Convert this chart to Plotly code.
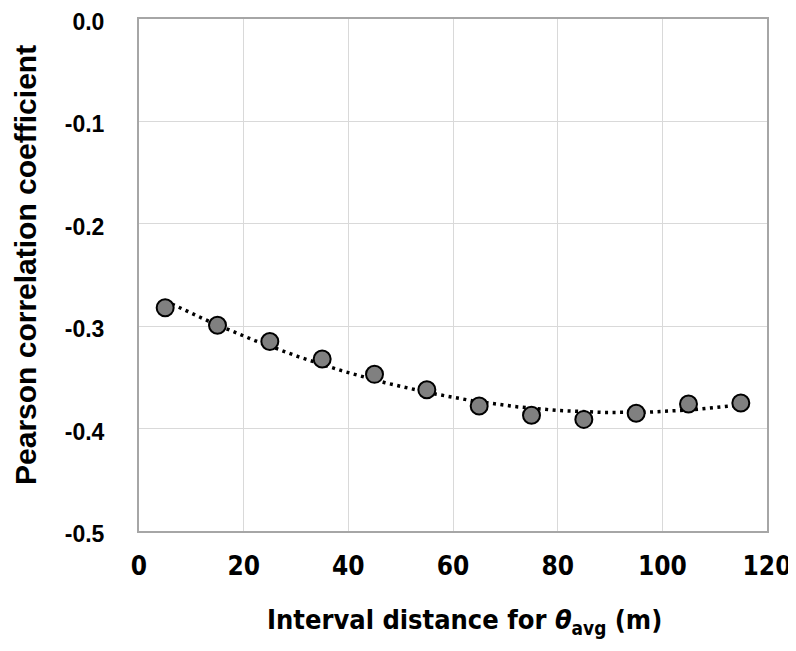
import numpy as np
import plotly.graph_objects as go

distance = [5, 15, 25, 35, 45, 55, 65, 75, 85, 95, 105, 115]
pearson_r = [-0.282, -0.299, -0.315, -0.332, -0.347, -0.362, -0.378, -0.387, -0.391, -0.385, -0.376, -0.375]
x_ticks = [0, 20, 40, 60, 80, 100, 120]
y_ticks = [0.0, -0.1, -0.2, -0.3, -0.4, -0.5]
x_title = "<b>Interval distance for <i>θ</i><sub>avg</sub> (m)</b>"
y_title = "<b>Pearson correlation coefficient</b>"

coef = np.polyfit(distance, pearson_r, 2)
x_fit = np.linspace(min(distance), max(distance), 200)
y_fit = np.polyval(coef, x_fit)

fig = go.Figure()
fig.add_trace(go.Scatter(x=x_fit, y=y_fit, mode="lines",
                         line=dict(color="black", width=3.5, dash="3px,4.5px"),
                         hoverinfo="skip", showlegend=False))
fig.add_trace(go.Scatter(x=distance, y=pearson_r, mode="markers",
                         marker=dict(size=17, color="#808080",
                                     line=dict(color="black", width=2)),
                         showlegend=False))

cond = "DejaVu Sans Condensed, DejaVu Sans, sans-serif"
arial = "Liberation Sans, Arial, sans-serif"
# page body has an 8px default margin; figure is sized so the plot lands where the reference has it
W, H = 788, 643
L, R, T, B = 131, 29, 11, 120
pw, ph = W - L - R, H - T - B
fig.update_layout(
    width=W, height=H,
    margin=dict(l=L, r=R, t=T, b=B),
    plot_bgcolor="white", paper_bgcolor="white",
    font=dict(family=arial, color="black"),
    xaxis=dict(range=[0, 120], tickvals=x_ticks, ticktext=[str(v) for v in x_ticks],
               showgrid=True, gridcolor="#d9d9d9", gridwidth=1.2,
               showline=True, linecolor="#a6a6a6", linewidth=2, mirror=True,
               zeroline=False, ticks="outside", ticklen=11, tickcolor="rgba(0,0,0,0)",
               tickfont=dict(size=26, family=cond, weight="bold"), automargin=False,
               ticklabeloverflow="allow"),
    yaxis=dict(range=[-0.5, 0.0], tickvals=y_ticks, ticktext=["%.1f" % v for v in y_ticks],
               showgrid=True, gridcolor="#d9d9d9", gridwidth=1.2,
               showline=True, linecolor="#a6a6a6", linewidth=2, mirror=True,
               zeroline=False, ticks="outside", ticklen=28, tickcolor="rgba(0,0,0,0)",
               tickfont=dict(size=23, family=arial, weight="bold"), automargin=False,
               ticklabeloverflow="allow", ticklabelshift=3),
    annotations=[
        dict(text=x_title, xref="paper", yref="paper", x=(464 - 139) / pw, y=-90 / ph,
             xanchor="center", yanchor="middle", showarrow=False,
             font=dict(size=27, family=cond, color="black")),
        dict(text=y_title, xref="paper", yref="paper", x=-114 / pw, y=(531 - 265) / ph,
             xanchor="center", yanchor="middle", textangle=-90, showarrow=False,
             font=dict(size=30, family=arial, color="black")),
    ],
)
fig.write_html("out.html")
